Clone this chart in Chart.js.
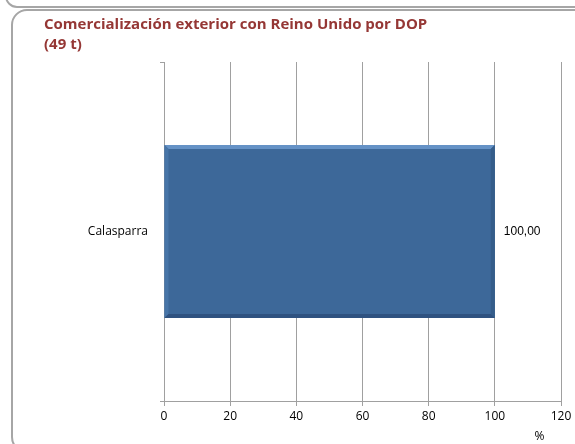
<!DOCTYPE html>
<html>
<head>
<meta charset="utf-8">
<script src="https://cdn.jsdelivr.net/npm/chart.js@4.4.1/dist/chart.umd.min.js"></script>
<style>
  html, body { margin: 0; padding: 0; background: #fff; }
  #wrap { position: relative; width: 575px; height: 444px; overflow: hidden; }
  /* rounded panel frames behind the chart */
  .prev { position: absolute; left: 5px; top: -40px; width: 600px; height: 44px;
          border: 2px solid #a6a6a6; border-radius: 12px; }
  .panel { position: absolute; left: 11px; top: 9px; width: 600px; height: 440px;
           border: 2px solid #a6a6a6; border-radius: 16px; }
  canvas { position: absolute; left: 0; top: 0; }
</style>
</head>
<body>
<div id="wrap">
  <div class="prev"></div>
  <div class="panel"></div>
  <canvas id="myChart" width="575" height="444"></canvas>
</div>
<script>
// Exports to the UK by DOP, percent of volume
const categories = ['Calasparra'];
const shares = [100.00];
const xTicks = [0, 20, 40, 60, 80, 100, 120];
const titleLines = ['Comercialización exterior con Reino Unido por DOP', '(49 t)'];
const unitLabel = '%';

const gridColor = '#a0a0a0';
const labelFont = '"Open Sans", Lato, sans-serif';

// value labels to the right of each bar, written with a comma
const valueLabels = {
  id: 'valueLabels',
  afterDatasetsDraw(chart) {
    const ctx = chart.ctx;
    const meta = chart.getDatasetMeta(0);
    ctx.save();
    ctx.font = '12px "Liberation Sans", Arial, sans-serif';
    ctx.fillStyle = '#000';
    ctx.textAlign = 'left';
    ctx.textBaseline = 'middle';
    meta.data.forEach((bar, i) => {
      ctx.fillText(shares[i].toFixed(2).replace('.', ','), bar.x + 9, bar.y);
    });
    ctx.restore();
  }
};

// bevelled edges on the bars
const bevel = {
  id: 'bevel',
  afterDatasetsDraw(chart) {
    const ctx = chart.ctx;
    const meta = chart.getDatasetMeta(0);
    ctx.save();
    meta.data.forEach(bar => {
      const left = bar.base, right = bar.x;
      const top = bar.y - bar.height / 2, bottom = bar.y + bar.height / 2;
      const e = 4;
      // top edge, lighter
      ctx.fillStyle = '#6592c6';
      ctx.beginPath();
      ctx.moveTo(left, top); ctx.lineTo(right, top);
      ctx.lineTo(right - e, top + e); ctx.lineTo(left + e, top + e);
      ctx.closePath(); ctx.fill();
      // left edge
      ctx.fillStyle = '#4775a8';
      ctx.beginPath();
      ctx.moveTo(left, top); ctx.lineTo(left + e, top + e);
      ctx.lineTo(left + e, bottom - e); ctx.lineTo(left, bottom);
      ctx.closePath(); ctx.fill();
      // right edge, darker
      ctx.fillStyle = '#355d8a';
      ctx.beginPath();
      ctx.moveTo(right, top); ctx.lineTo(right, bottom);
      ctx.lineTo(right - e, bottom - e); ctx.lineTo(right - e, top + e);
      ctx.closePath(); ctx.fill();
      // bottom edge, darkest
      ctx.fillStyle = '#2f5280';
      ctx.beginPath();
      ctx.moveTo(left, bottom); ctx.lineTo(right, bottom);
      ctx.lineTo(right - e, bottom - e); ctx.lineTo(left + e, bottom - e);
      ctx.closePath(); ctx.fill();
    });
    ctx.restore();
  }
};

// unit under the end of the value axis
const unitText = {
  id: 'unitText',
  afterDraw(chart) {
    const ctx = chart.ctx;
    const x = chart.scales.x;
    ctx.save();
    ctx.font = '12px ' + labelFont;
    ctx.fillStyle = '#000';
    ctx.textAlign = 'center';
    ctx.textBaseline = 'middle';
    ctx.fillText(unitLabel, x.getPixelForValue(113.5), 437);
    ctx.restore();
  }
};

const ctx = document.getElementById('myChart').getContext('2d');
new Chart(ctx, {
  type: 'bar',
  data: {
    labels: categories,
    datasets: [{
      data: shares,
      backgroundColor: '#3d6899',
      borderWidth: 0,
      categoryPercentage: 1,
      barPercentage: 0.51
    }]
  },
  options: {
    indexAxis: 'y',
    responsive: false,
    animation: false,
    layout: { padding: { left: 44, right: 14, top: 15, bottom: 0 } },
    plugins: {
      legend: { display: false },
      tooltip: { enabled: false },
      title: {
        display: true,
        text: titleLines,
        align: 'start',
        color: '#953735',
        font: { family: labelFont, size: 15, weight: 'bold', lineHeight: 1.3 },
        padding: { top: 0, bottom: 8 }
      }
    },
    scales: {
      x: {
        min: 0,
        max: 120,
        afterBuildTicks(scale) { scale.ticks = xTicks.map(v => ({ value: v })); },
        afterFit(scale) { scale.height = 43; },
        ticks: {
          color: '#000',
          padding: 3,
          font: { family: labelFont, size: 12 }
        },
        grid: { color: gridColor, lineWidth: 1, tickLength: 5 },
        border: { color: gridColor, width: 1 }
      },
      y: {
        afterFit(scale) { scale.width = 120; },
        ticks: {
          color: '#000',
          padding: 12,
          font: { family: labelFont, size: 12 }
        },
        grid: { drawOnChartArea: false, offset: true, color: gridColor, tickLength: 4 },
        border: { color: gridColor, width: 1 }
      }
    }
  },
  plugins: [bevel, valueLabels, unitText]
});
</script>
</body>
</html>
